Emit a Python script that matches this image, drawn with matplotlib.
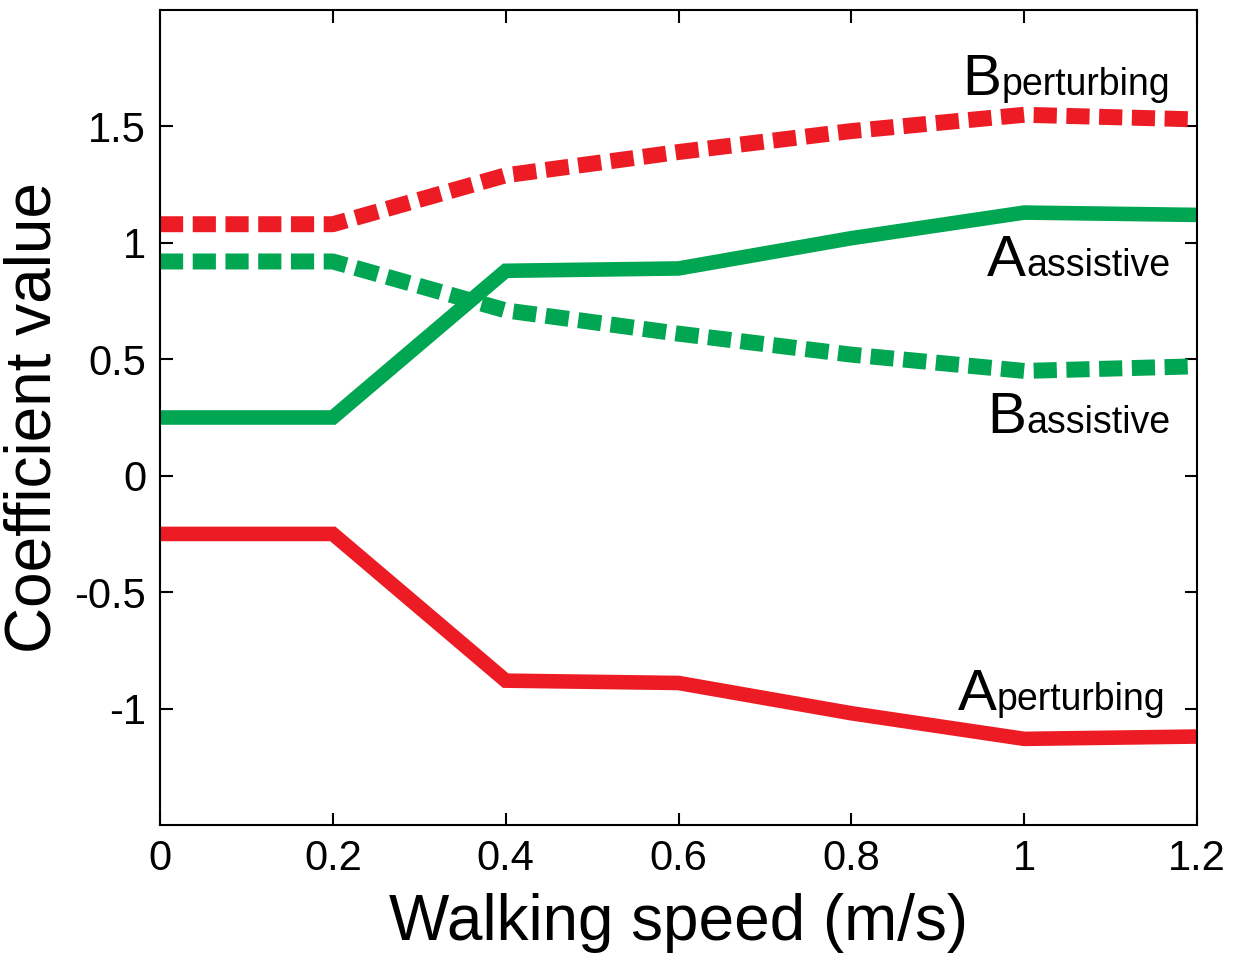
import numpy as np
import matplotlib
matplotlib.use("Agg")
import matplotlib.pyplot as plt

# walking speed (m/s)
speed = [0.0, 0.2, 0.4, 0.6, 0.8, 1.0, 1.2]

# coefficient values
a_assistive = [0.25, 0.25, 0.88, 0.89, 1.02, 1.13, 1.12]
a_perturbing = [-0.25, -0.25, -0.88, -0.89, -1.02, -1.13, -1.12]
b_perturbing = [1.08, 1.08, 1.29, 1.39, 1.48, 1.55, 1.53]
b_assistive = [0.92, 0.92, 0.71, 0.61, 0.52, 0.45, 0.47]

xticks = [0, 0.2, 0.4, 0.6, 0.8, 1, 1.2]
xticklabels = ["0", "0.2", "0.4", "0.6", "0.8", "1", "1.2"]
yticks = [-1, -0.5, 0, 0.5, 1, 1.5]
yticklabels = ["-1", "-0.5", "0", "0.5", "1", "1.5"]

RED = "#ED1C24"
GREEN = "#00A651"

plt.rcParams["font.family"] = ["Liberation Sans", "DejaVu Sans"]

dpi = 100
fig = plt.figure(figsize=(12.46, 9.59), dpi=dpi)
ax = fig.add_axes([0.1284, 0.1397, 0.8323, 0.8499])

ax.plot(speed, a_assistive, color=GREEN, lw=10.5, solid_joinstyle="miter")
ax.plot(speed, a_perturbing, color=RED, lw=10.5, solid_joinstyle="miter")
ax.plot(speed, b_perturbing, color=RED, lw=11.5, dashes=(1.45, 0.6),
        dash_capstyle="butt")
ax.plot(speed, b_assistive, color=GREEN, lw=11.5, dashes=(1.45, 0.6),
        dash_capstyle="butt")

ax.set_xlim(0, 1.2)
ax.set_ylim(-1.5, 2.0)
ax.set_xticks(xticks)
ax.set_xticklabels(xticklabels)
ax.set_yticks(yticks)
ax.set_yticklabels(yticklabels)
ax.tick_params(direction="in", length=9, width=1.5, top=True, right=True,
               labelsize=30, pad=10)
for s in ax.spines.values():
    s.set_linewidth(1.5)

ax.set_xlabel("Walking speed (m/s)", fontsize=46, labelpad=10)
ax.set_ylabel("Coefficient value", fontsize=46, labelpad=8)

# curve labels: big capital followed by smaller word on same baseline
labels = [("B", "perturbing", 1.169, 1.636),
          ("A", "assistive", 1.169, 0.857),
          ("B", "assistive", 1.169, 0.184),
          ("A", "perturbing", 1.163, -1.006)]
fig.canvas.draw()
r = fig.canvas.get_renderer()
for cap, word, x, y in labels:
    t = ax.text(x, y, word, ha="right", va="baseline", fontsize=27)
    w = t.get_window_extent(r).width * 72.0 / dpi
    ax.annotate(cap, xy=(x, y), xytext=(-w, 0), textcoords="offset points",
                ha="right", va="baseline", fontsize=42)

fig.savefig("out.png", dpi=dpi)
